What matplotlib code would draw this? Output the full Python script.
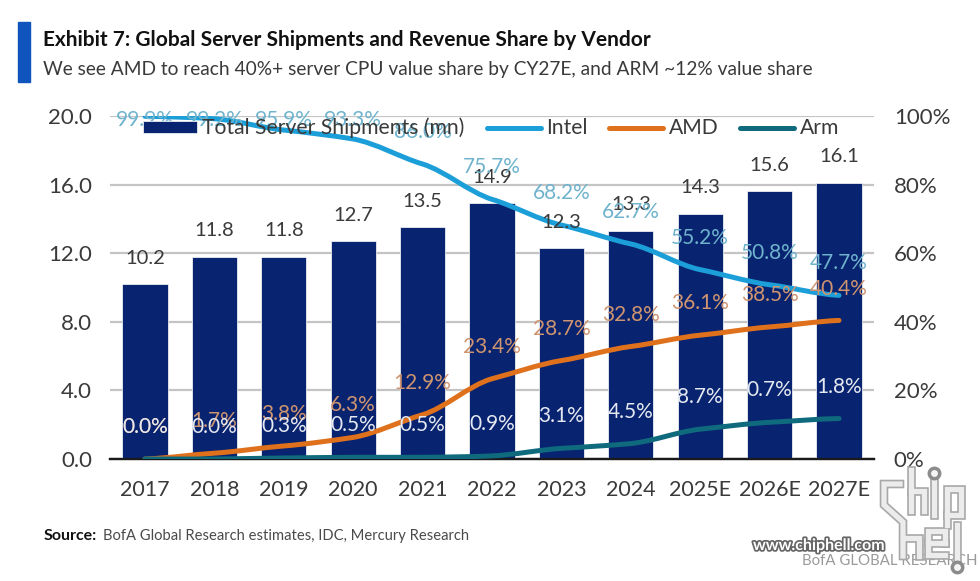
import matplotlib
matplotlib.use('Agg')
import matplotlib.pyplot as plt
import matplotlib.patheffects as pe
from matplotlib.lines import Line2D
from matplotlib.patches import PathPatch, Rectangle
from matplotlib.path import Path

plt.rcParams['font.family'] = ['Lato', 'DejaVu Sans']

# Data
years = ['2017', '2018', '2019', '2020', '2021', '2022', '2023', '2024', '2025E', '2026E', '2027E']
shipments = [10.2, 11.8, 11.8, 12.7, 13.5, 14.9, 12.3, 13.3, 14.3, 15.6, 16.1]
intel = [99.9, 99.2, 95.9, 93.3, 86.0, 75.7, 68.2, 62.7, 55.2, 50.8, 47.7]
amd = [0.0, 1.7, 3.8, 6.3, 12.9, 23.4, 28.7, 32.8, 36.1, 38.5, 40.4]
arm = [0.0, 0.0, 0.3, 0.5, 0.5, 0.9, 3.1, 4.5, 8.7, 10.7, 11.8]
# text as printed in the exhibit (the leading 1 is lost on the last two Arm labels)
arm_labels = ['0.0%', '0.0%', '0.3%', '0.5%', '0.5%', '0.9%', '3.1%', '4.5%', '8.7%', '0.7%', '1.8%']
left_ticks = [0, 4, 8, 12, 16, 20]
right_ticks = [0, 20, 40, 60, 80, 100]

NAVY = '#08236f'
TEXT = '#3a3a3a'
W, H = 980, 581


def fx(px):
    return px / W


def fy(py):
    return 1 - py / H


def smooth_path(xs, ys):
    # lightly smoothed line, one bezier per segment
    verts = [(xs[0], ys[0])]
    n = len(xs)
    for i in range(n - 1):
        y0, y1, y2, y3 = ys[max(i - 1, 0)], ys[i], ys[i + 1], ys[min(i + 2, n - 1)]
        verts += [(xs[i] + 1 / 3, y1 + (y2 - y0) / 10 + (y2 - y1) / 30), (xs[i + 1] - 1 / 3, y2 - (y3 - y1) / 10 - (y2 - y1) / 30), (xs[i + 1], y2)]
    return Path(verts, [Path.MOVETO] + [Path.CURVE4] * (3 * (n - 1)))


fig = plt.figure(figsize=(9.8, 5.81), dpi=100)
ax = fig.add_axes([fx(110.3), fy(459), 763.4 / W, 343 / H])
ax2 = ax.twinx()
x = list(range(len(years)))

# Bars and grid
ax.bar(x, shipments, width=0.65, color=NAVY, edgecolor='white', linewidth=0.5, zorder=3, label='Total Server Shipments (mn)')
ax.set_xlim(-0.5, 10.5)
ax.set_ylim(0, 20)
ax.set_xticks(x)
ax.set_xticklabels(years)
ax.set_yticks(left_ticks)
ax.set_yticklabels([f'{t:.1f}' for t in left_ticks])
ax.grid(axis='y', color='#c4c4c4', linewidth=1.6, zorder=0)
ax.set_axisbelow(True)
ax.tick_params(axis='x', length=0, pad=15, labelsize=15.5, labelcolor=TEXT)
ax.tick_params(axis='y', length=0, pad=13, labelsize=16, labelcolor=TEXT)

# Share lines
ax2.set_ylim(0, 100)
ax2.set_yticks(right_ticks)
ax2.set_yticklabels([f'{t}%' for t in right_ticks])
ax2.tick_params(axis='y', length=0, pad=14.5, labelsize=16, labelcolor=TEXT)
for name, vals, col in [('Intel', intel, '#1c9fd8'), ('AMD', amd, '#e0711c'), ('Arm', arm, '#0e6a7c')]:
    ax2.add_patch(PathPatch(smooth_path(x, vals), facecolor='none', edgecolor=col, linewidth=3.6,
                            capstyle='round', joinstyle='round', zorder=4))
    ax2.plot([], [], color=col, linewidth=3.6, label=name, solid_capstyle='round')

for a in (ax, ax2):
    for s in ('top', 'left', 'right'):
        a.spines[s].set_visible(False)
    a.spines['bottom'].set_linewidth(1.6)
    a.spines['bottom'].set_color('#1a1a1a')

# Value labels
for i, v in enumerate(shipments):
    ax2.annotate(f'{v:.1f}', (i, v), xycoords=ax.transData, xytext=(0, 26), textcoords='offset pixels',
                 ha='center', va='center', fontsize=14.5, color=TEXT, zorder=6)

# Share labels sit 32 px above the line, held under the top of the plot
for vals, col, texts in [(intel, '#6fb3cd', [f'{v:.1f}%' for v in intel]),
                         (amd, '#cf9470', [f'{v:.1f}%' for v in amd]),
                         (arm, '#e4e8f0', arm_labels)]:
    for i, (v, t) in enumerate(zip(vals, texts)):
        ax2.text(i, min(v + 9.3, 98.8), t, ha='center', va='center', fontsize=15, color=col, zorder=6)

# Legend
h1, l1 = ax.get_legend_handles_labels()
h2, l2 = ax2.get_legend_handles_labels()
leg = ax2.legend(h1 + h2, l1 + l2, ncols=4, frameon=False, fontsize=15.2, labelcolor=TEXT,
                 handlelength=2.55, handleheight=0.5, handletextpad=0.25, columnspacing=1.05,
                 loc='center', bbox_to_anchor=(fx(491), fy(128)), bbox_transform=fig.transFigure,
                 borderpad=0, borderaxespad=0)
leg.set_zorder(7)

# Header
fig.add_artist(Rectangle((fx(18), fy(82)), 12 / W, 60 / H, transform=fig.transFigure, color='#0f55bd'))
fig.text(fx(43), fy(40), 'Exhibit 7: Global Server Shipments and Revenue Share by Vendor', fontsize=15,
         fontweight='bold', color='#111111', va='center')
fig.text(fx(43), fy(69), 'We see AMD to reach 40%+ server CPU value share by CY27E, and ARM ~12% value share',
         fontsize=13.8, color=TEXT, va='center')

# Source
fig.text(fx(44), fy(536), 'Source:', fontsize=11.5, fontweight='bold', color='#111111', va='center')
fig.text(fx(103), fy(536), 'BofA Global Research estimates, IDC, Mercury Research', fontsize=10.6,
         color='#4a4a4a', va='center')

# Watermark
fig.text(fx(802), fy(561), 'BofA GLOBAL RESEARCH', fontsize=10.8, color='#9a9a9a', va='center')
logo_strokes = [
    [(900, 484), (884, 484), (884, 505), (903, 522), (903, 556)],
    [(911, 470), (911, 511)],
    [(911, 491), (924, 491), (924, 511)],
    [(934, 482), (934, 515)],
    [(947, 525), (947, 489), (961, 489), (961, 515), (947, 515)],
    [(903, 538), (919, 538), (919, 556)],
    [(945, 543), (928, 543), (928, 531), (945, 531), (945, 543)],
    [(928, 543), (928, 555), (945, 555)],
    [(957, 525), (957, 558)],
]
# grey edge first, pale stroke on top of all of it
for col, lw, z in [('#a8a8a8', 6.2, 8), ('#ececec', 3.8, 9)]:
    for stroke in logo_strokes:
        fig.add_artist(Line2D([fx(p[0]) for p in stroke], [fy(p[1]) for p in stroke], transform=fig.transFigure,
                              color=col, linewidth=lw, solid_joinstyle='miter', zorder=z))
for cx, cy in [(934, 473), (957, 567)]:
    fig.add_artist(Line2D([fx(cx)], [fy(cy)], transform=fig.transFigure, marker='o', markersize=7.5, zorder=10,
                          markerfacecolor='#f4f4f4', markeredgecolor='#8c8c8c', markeredgewidth=2.5))
wm = fig.text(fx(753), fy(546), 'www.chiphell.com', fontsize=11.5, fontweight='bold', color='white', va='center',
              path_effects=[pe.withStroke(linewidth=2.5, foreground='#666666')])
wm.set_zorder(11)

fig.savefig('out.png', dpi=100)
